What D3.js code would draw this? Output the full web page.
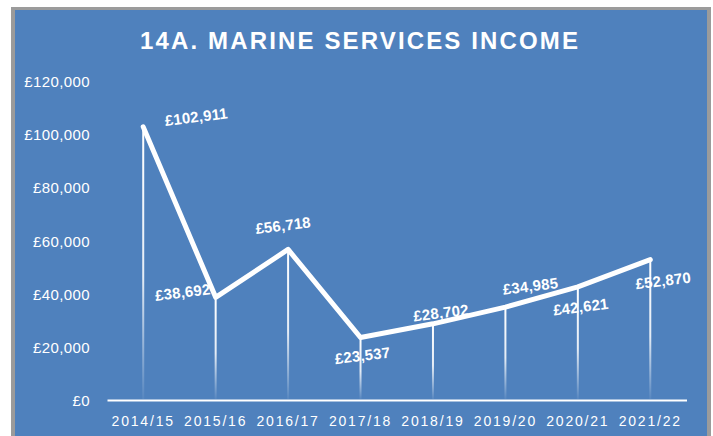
<!DOCTYPE html>
<html>
<head>
<meta charset="utf-8">
<script src="https://cdn.jsdelivr.net/npm/d3@7"></script>
<style>
  html, body { margin: 0; padding: 0; background: #ffffff; }
  svg { display: block; }
</style>
</head>
<body>
<svg id="chart" width="713" height="436"></svg>
<script>
const categories = ["2014/15", "2015/16", "2016/17", "2017/18", "2018/19", "2019/20", "2020/21", "2021/22"];
const income = [102911, 38692, 56718, 23537, 28702, 34985, 42621, 52870];
const yTicks = [0, 20000, 40000, 60000, 80000, 100000, 120000];
const title = "14A. MARINE SERVICES INCOME";
// label placement (pixel offsets from each point)
const labelDx = [53, -33, -5, 2, 8, 25, 3, 13];
const labelDy = [-10, -5, -24, 18, -11, -21, 20, 21];

const svg = d3.select("#chart");
const bg = "#4f81bd";

svg.append("rect").attr("x", 11).attr("y", 7).attr("width", 700).attr("height", 440).attr("fill", "#9b9b9b");
svg.append("rect").attr("x", 15).attr("y", 10).attr("width", 692).attr("height", 440).attr("fill", bg);

svg.append("text")
  .attr("x", 359).attr("y", 48.5)
  .attr("text-anchor", "middle")
  .attr("fill", "#ffffff")
  .attr("font-family", "Liberation Sans, Arial, sans-serif")
  .attr("font-weight", "bold")
  .attr("font-size", 24)
  .attr("textLength", 438)
  .attr("lengthAdjust", "spacing")
  .text(title);

const x = d3.scaleBand().domain(categories).range([107, 686.5]);
const y = d3.scaleLinear().domain([0, 120000]).range([400, 81.5]);
const cx = d => x(d) + x.bandwidth() / 2;

const defs = svg.append("defs");
const grad = defs.append("linearGradient").attr("id", "drop").attr("x1", 0).attr("y1", 0).attr("x2", 0).attr("y2", 1);
grad.append("stop").attr("offset", "0%").attr("stop-color", "#fff").attr("stop-opacity", 1);
grad.append("stop").attr("offset", "55%").attr("stop-color", "#fff").attr("stop-opacity", 0.85);
grad.append("stop").attr("offset", "100%").attr("stop-color", "#fff").attr("stop-opacity", 0.05);

// Y axis labels
const yAxis = d3.axisLeft(y).tickValues(yTicks).tickSize(0).tickPadding(0)
  .tickFormat(v => "£" + d3.format(",")(v));
const gy = svg.append("g").attr("transform", "translate(90,0)").call(yAxis);
gy.select(".domain").remove();
gy.selectAll("text")
  .attr("fill", "#ffffff")
  .attr("font-family", "Liberation Sans, Arial, sans-serif")
  .attr("font-size", 15)
  .attr("letter-spacing", 0.4)
  .attr("dy", "0.35em");

// X axis
const xAxis = d3.axisBottom(x).tickSize(0).tickPadding(0);
const gx = svg.append("g").attr("transform", "translate(0,400)").call(xAxis);
gx.select(".domain").attr("stroke", "#ffffff").attr("stroke-width", 2);
gx.selectAll("text")
  .attr("fill", "#ffffff")
  .attr("font-family", "Liberation Sans, Arial, sans-serif")
  .attr("font-size", 14)
  .attr("letter-spacing", 1.8)
  .attr("y", 26)
  .attr("dy", 0);

const data = categories.map((c, i) => ({ c, v: income[i], i }));

// drop lines
svg.append("g").selectAll("rect").data(data).join("rect")
  .attr("x", d => cx(d.c) - 1)
  .attr("y", d => y(d.v))
  .attr("width", 2)
  .attr("height", d => y(0) - y(d.v) - 1)
  .attr("fill", "url(#drop)");

// line
const line = d3.line().x(d => cx(d.c)).y(d => y(d.v));
svg.append("path").datum(data)
  .attr("d", line)
  .attr("fill", "none")
  .attr("stroke", "#ffffff")
  .attr("stroke-width", 5)
  .attr("stroke-linejoin", "round")
  .attr("stroke-linecap", "round");

// data labels
svg.append("g").selectAll("text").data(data).join("text")
  .attr("transform", d => `translate(${cx(d.c) + labelDx[d.i]},${y(d.v) + labelDy[d.i]}) rotate(-7)`)
  .attr("text-anchor", "middle")
  .attr("dy", "0.35em")
  .attr("fill", "#ffffff")
  .attr("font-family", "Liberation Sans, Arial, sans-serif")
  .attr("font-weight", "bold")
  .attr("font-size", 15)
  .attr("letter-spacing", 0.2)
  .text(d => "£" + d3.format(",")(d.v));
</script>
</body>
</html>
